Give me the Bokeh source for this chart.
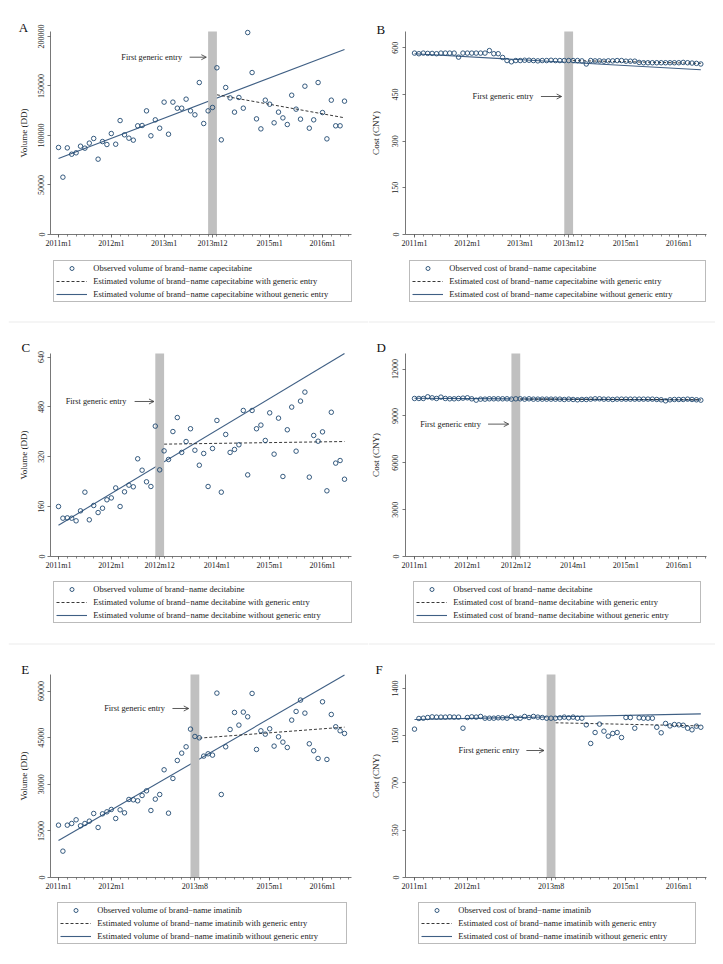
from bokeh.plotting import figure
from bokeh.models import Range1d, FixedTicker, Legend, LegendItem, Label, Arrow, OpenHead, Span
from bokeh.layouts import column, row
from bokeh.embed import file_html
from bokeh.resources import INLINE

# ---------------- data ----------------
months = [f"{2011 + i // 12}m{i % 12 + 1}" for i in range(66)]

vol_capecitabine = [87900, 57900, 87500, 81100, 82500, 89200, 87200, 92300, 97000, 76100,
                    93900, 90900, 102000, 91200, 115100, 100700, 97300, 95300, 109800, 110100,
                    124900, 99700, 115800, 107400, 133700, 101300, 133700, 127600, 127600, 136700,
                    124900, 120900, 153500, 112100, 124900, 128300, 168400, 95600, 148500, 138000,
                    123600, 138400, 127600, 204000, 163600, 116800, 106700, 135700, 131600, 112800,
                    123600, 117800, 111100, 140700, 126600, 116500, 149800, 107400, 115800, 153500,
                    123200, 96600, 135700, 109800, 109800, 134700]
cost_capecitabine = [583, 581, 583, 582, 582, 581, 583, 583, 583, 583,
                     570, 583, 583, 583, 583, 583, 583, 591, 581, 581,
                     569, 559, 555, 559, 559, 560, 560, 559, 558, 559,
                     559, 560, 559, 559, 559, 559, 559, 559, 558, 548,
                     559, 558, 558, 557, 558, 558, 559, 559, 557, 557,
                     557, 553, 552, 552, 552, 552, 552, 552, 552, 552,
                     552, 553, 552, 551, 550, 548]
vol_decitabine = [160.5, 123, 124, 123, 114.5, 146.6, 206.5, 117.7, 163.7, 141,
                  155, 182, 188, 220, 160.5, 207.6, 229, 223.7, 313.6, 277,
                  239.7, 224.7, 418.4, 278, 339, 311.4, 401, 446, 334, 369,
                  410, 341, 293, 330.7, 224.7, 346.7, 436.6, 206.5, 391.7, 334,
                  343.5, 358.5, 468.7, 262, 468.7, 410, 421.7, 372.4, 461, 328.5,
                  444, 256.8, 406.7, 479.5, 338, 498.7, 527.6, 254.7, 388.5, 370,
                  400, 210.8, 463, 299.7, 308, 248]
cost_decitabine = [10120, 10120, 10120, 10227, 10163, 10120, 10206, 10120, 10099, 10099,
                   10120, 10141, 10163, 10099, 10013, 10077, 10077, 10099, 10099, 10099,
                   10099, 10099, 10077, 10099, 10099, 10077, 10099, 10077, 10077, 10077,
                   10077, 10077, 10077, 10077, 10056, 10077, 10056, 10035, 10056, 10056,
                   10077, 10099, 10099, 10077, 10077, 10056, 10077, 10077, 10077, 10077,
                   10077, 10077, 10077, 10077, 10077, 10056, 10035, 9970, 10035, 10056,
                   10056, 10056, 10077, 10056, 10035, 10013]
vol_imatinib = [16850, 8480, 16850, 17390, 18570, 16640, 17390, 18140, 20610, 16100,
                20500, 21140, 21900, 19000, 21790, 20820, 25120, 25010, 24690, 26400,
                27900, 21570, 25220, 26720, 34670, 20710, 31880, 37670, 40030, 42070,
                47760, 45400, 44970, 39070, 39820, 39390, 59350, 26720, 42070, 47650,
                53130, 49050, 53240, 51730, 59250, 41220, 47230, 46150, 47870, 42290,
                45290, 43580, 41860, 50660, 53450, 57100, 52910, 43040, 40790, 38320,
                56560, 38000, 52480, 48510, 47230, 46370]
cost_imatinib = [1099, 1178, 1180, 1185, 1190, 1188, 1188, 1188, 1190, 1188,
                 1188, 1106, 1185, 1190, 1188, 1193, 1180, 1180, 1180, 1183,
                 1183, 1180, 1193, 1180, 1180, 1193, 1185, 1193, 1188, 1185,
                 1180, 1180, 1180, 1183, 1188, 1183, 1188, 1180, 1180, 1131,
                 993, 1074, 1136, 1084, 1047, 1067, 1074, 1037, 1185, 1185,
                 1106, 1183, 1180, 1180, 1180, 1113, 1072, 1141, 1123, 1133,
                 1131, 1128, 1106, 1094, 1121, 1113]

# estimated trend lines (start month, end month) and values
without_months = ["2011m1", "2016m6"]
vol_cape_without = [76800, 186900]
cost_cape_without = [580.7, 529.3]
vol_deci_without = [100.6, 651.7]
cost_deci_without = [10130, 10020]
vol_imat_without = [11910, 65150]
cost_imat_without = [1170, 1212]

cape_with_months = ["2014m1", "2016m6"]
deci_with_months = ["2013m1", "2016m6"]
imat_with_months = ["2013m9", "2016m6"]
vol_cape_with = [141100, 117900]
cost_cape_with = [559, 550]
vol_deci_with = [360.6, 369]
cost_deci_with = [10080, 10040]
vol_imat_with = [44860, 48400]
cost_imat_with = [1146, 1123]

# first generic entry windows
cape_entry = ["2013m11", "2014m1"]
deci_entry = ["2012m11", "2013m1"]
imat_entry = ["2013m7", "2013m9"]

# tick labels
cape_ticks = ["2011m1", "2012m1", "2013m1", "2013m12", "2015m1", "2016m1"]
deci_ticks = ["2011m1", "2012m1", "2012m12", "2014m1", "2015m1", "2016m1"]
imat_ticks = ["2011m1", "2012m1", "2013m8", "2015m1", "2016m1"]
yticks_vol_cape = [0, 50000, 100000, 150000, 200000]
yticks_cost_cape = [0, 150, 300, 450, 600]
yticks_vol_deci = [0, 160, 320, 480, 640]
yticks_cost_deci = [0, 3000, 6000, 9000, 12000]
yticks_vol_imat = [0, 15000, 30000, 45000, 60000]
yticks_cost_imat = [0, 350, 700, 1050, 1400]

# ---------------- layout / styling ----------------
SERIF = "Liberation Serif"
MARK = "#1f4870"
LINE = "#3f5f84"
BAND = "#c0c0c0"
AX = "#555555"
PLOT_H = 203  # height of the plotting region in px

# column: figure width, y-axis px, first-month px, px per month, axis right end px, left pad
COLS = [dict(W=360, ax=42, m0=50, ppm=4.4, right=343, pad=8),
        dict(W=347, ax=37, m0=46, ppm=4.405, right=338, pad=0)]
# row: figure height, px from figure top to the zero line, top pad
ROWS = [dict(H=312, y0=226, pad=8), dict(H=322, y0=236, pad=0), dict(H=308, y0=235, pad=0)]

idx = {m: i for i, m in enumerate(months)}
xs = list(range(len(months)))


def panel(letter, ci, ri, yvals, yticks, ytop, xticks, entry, wo, wi, wi_months,
          note, arrow, ylabel, labels, leg_xy, label_width, letter_xy, sep=False):
    c, r = COLS[ci], ROWS[ri]
    s = ytop / PLOT_H
    x_lo = (c["ax"] - c["m0"]) / c["ppm"]
    x_hi = (c["right"] - c["m0"]) / c["ppm"]
    p = figure(frame_width=c["W"], frame_height=r["H"],
               min_border=0, min_border_left=c["pad"], min_border_right=0,
               min_border_top=r["pad"], min_border_bottom=0,
               x_range=Range1d(-c["m0"] / c["ppm"], (c["W"] - c["m0"]) / c["ppm"]),
               y_range=Range1d(-(r["H"] - r["y0"]) * s, r["y0"] * s),
               output_backend="svg", toolbar_location=None)
    p.xgrid.visible = False
    p.ygrid.visible = False
    p.outline_line_color = None
    p.background_fill_color = "white"
    p.border_fill_color = "white"

    if sep:
        p.add_layout(Span(location=r["H"] - 1.5, location_units="screen",
                          dimension="width", line_color="#ebebeb", line_width=1))

    # trend lines
    r_wo = p.line([idx[m] for m in without_months], wo, line_color=LINE, line_width=1.1)
    r_wi = p.line([idx[m] for m in wi_months], wi, line_color="#222222",
                  line_width=0.9, line_dash="3 2")
    # entry band
    p.quad(left=[idx[entry[0]]], right=[idx[entry[1]]], bottom=[0], top=[ytop],
           fill_color=BAND, line_color=None)
    # observed points
    r_pts = p.scatter(xs, yvals, marker="circle", size=4.5, fill_color=None,
                      line_color=MARK, line_width=0.9)

    # annotations
    p.add_layout(Label(x=note[0], y=note[1], text="First generic entry",
                       text_font=SERIF, text_font_size="8.3px", text_align="right",
                       text_baseline="middle", text_color="#222222"))
    p.add_layout(Arrow(end=OpenHead(size=5, line_width=0.8, line_color="#333333"),
                       x_start=arrow[0], y_start=note[1], x_end=arrow[1], y_end=note[1],
                       line_width=0.8, line_color="#333333"))
    p.add_layout(Label(x=letter_xy[0], y=letter_xy[1], x_units="screen", y_units="screen",
                       text=letter, text_font=SERIF, text_font_size="13px",
                       text_baseline="alphabetic", text_color="#111111"))

    # axes placed at the data origin
    p.xaxis.fixed_location = 0
    p.xaxis.bounds = (x_lo, x_hi)
    p.yaxis.fixed_location = x_lo
    p.yaxis.bounds = (0, ytop)
    p.xaxis.ticker = FixedTicker(ticks=[idx[t] for t in xticks],
                                 minor_ticks=list(range(0, 67, 2)))
    p.xaxis.major_label_overrides = {idx[t]: t for t in xticks}
    p.yaxis.ticker = FixedTicker(ticks=yticks)
    p.yaxis.major_label_overrides = {t: str(t) for t in yticks}
    p.yaxis.major_label_orientation = "vertical"
    p.yaxis.axis_label = ylabel
    for ax in (p.xaxis, p.yaxis):
        ax.axis_line_color = AX
        ax.axis_line_width = 0.8
        ax.major_tick_line_color = AX
        ax.major_tick_line_width = 0.8
        ax.minor_tick_line_color = AX
        ax.minor_tick_line_width = 0.7
        ax.major_tick_in = 0
        ax.major_tick_out = 3
        ax.minor_tick_in = 0
        ax.minor_tick_out = 2
        ax.major_label_text_font = SERIF
        ax.major_label_text_font_size = "8px"
        ax.major_label_text_color = "#222222"
    p.xaxis.major_label_standoff = 1
    p.yaxis.minor_tick_line_color = None
    p.yaxis.major_label_standoff = 3 if ci == 0 else 4
    p.yaxis.axis_label_text_font = SERIF
    p.yaxis.axis_label_text_font_size = "9px"
    p.yaxis.axis_label_text_font_style = "normal"
    p.yaxis.axis_label_text_color = "#222222"
    p.yaxis.axis_label_standoff = 7 if ci == 0 else 9

    legend = Legend(items=[LegendItem(label=labels[0], renderers=[r_pts]),
                           LegendItem(label=labels[1], renderers=[r_wi]),
                           LegendItem(label=labels[2], renderers=[r_wo])],
                    location=leg_xy, margin=0, padding=2, spacing=3,
                    label_height=10, glyph_height=10, glyph_width=31,
                    label_standoff=6, label_width=label_width,
                    label_text_font=SERIF, label_text_font_size="8.5px",
                    label_text_color="#222222",
                    border_line_color="#777777", border_line_width=0.8,
                    background_fill_color="white", background_fill_alpha=1.0)
    p.add_layout(legend)
    return p


def labs(kind, drug):
    return [f"Observed {kind} of brand\u2212name {drug}",
            f"Estimated {kind} of brand\u2212name {drug} with generic entry",
            f"Estimated {kind} of brand\u2212name {drug} without generic entry"]


pA = panel("A", 0, 0, vol_capecitabine, yticks_vol_cape, 205050, cape_ticks, cape_entry,
           vol_cape_without, vol_cape_with, cape_with_months, (28.1, 179100), (29.8, 33.6),
           "Volume (DD)", labs("volume", "capecitabine"), (45.3, 18.3), 256, (10.3, 292.7))
pB = panel("B", 1, 0, cost_capecitabine, yticks_cost_cape, 652.4, cape_ticks, cape_entry,
           cost_cape_without, cost_cape_with, cape_with_months, (27.0, 443.5), (28.7, 33.4),
           "Cost (CNY)", labs("cost", "capecitabine"), (41.3, 18.3), 254, (8, 290.7))
pC = panel("C", 0, 1, vol_decitabine, yticks_vol_deci, 651.5, deci_ticks, deci_entry,
           vol_deci_without, vol_deci_with, deci_with_months, (15.45, 497.5), (17.3, 21.7),
           "Volume (DD)", labs("volume", "decitabine"), (45.3, 19.3), 256, (13, 294.7), True)
pD = panel("D", 1, 1, cost_decitabine, yticks_cost_deci, 13000, deci_ticks, deci_entry,
           cost_deci_without, cost_deci_with, deci_with_months, (15.1, 8478), (16.7, 21.4),
           "Cost (CNY)", labs("cost", "decitabine"), (45.3, 19.3), 245, (8, 294.7), True)
pE = panel("E", 0, 2, vol_imatinib, yticks_vol_imat, 65343, imat_ticks, imat_entry,
           vol_imat_without, vol_imat_with, imat_with_months, (24.2, 54400), (25.9, 29.6),
           "Volume (DD)", labs("volume", "imatinib"), (49.3, 6), 247, (12.7, 280.7), True)
pF = panel("F", 1, 2, cost_imatinib, yticks_cost_imat, 1503.7, imat_ticks, imat_entry,
           cost_imat_without, cost_imat_with, imat_with_months, (23.8, 940.7), (25.4, 29.4),
           "Cost (CNY)", labs("cost", "imatinib"), (50.3, 6), 235, (7, 280.7), True)

layout = column(row(pA, pB), row(pC, pD), row(pE, pF))
open("out.html", "w").write(file_html(layout, INLINE))
